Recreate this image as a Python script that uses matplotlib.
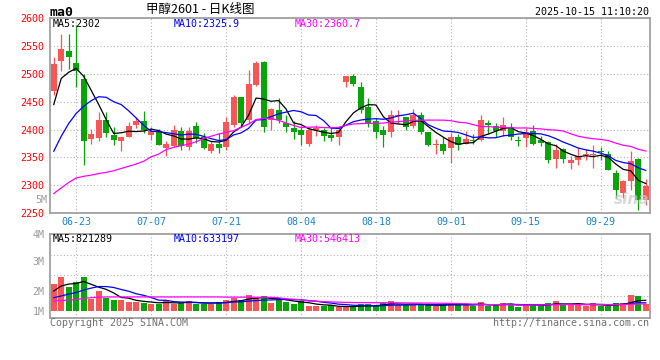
import numpy as np
import pandas as pd
import matplotlib
matplotlib.use("Agg")
import matplotlib.pyplot as plt

plt.rcParams['font.family'] = ['DejaVu Sans Mono', 'Noto Sans CJK SC']

# ---------------- data ----------------
dates = [d.strftime('%m-%d') for d in pd.bdate_range('2025-06-18', '2025-10-15')
         if not ('2025-10-01' <= d.strftime('%Y-%m-%d') <= '2025-10-08')]

opens = [2469, 2523, 2541, 2520, 2490, 2383, 2385, 2418, 2390, 2379,
         2386, 2408, 2416, 2390, 2397, 2366, 2371, 2397, 2369, 2406,
         2387, 2362, 2374, 2368, 2409, 2458, 2417, 2480, 2522, 2417,
         2436, 2411, 2403, 2399, 2374, 2399, 2399, 2390, 2387, 2485,
         2496, 2477, 2441, 2416, 2399, 2395, 2424, 2422, 2406, 2426,
         2395, 2373, 2374, 2366, 2387, 2374, 2381, 2381, 2412, 2407,
         2398, 2405, 2381, 2384, 2398, 2381, 2377, 2347, 2365, 2339,
         2346, 2355, 2355, 2361, 2356, 2322, 2286, 2308, 2347, 2274]
highs = [2530, 2571, 2572, 2588, 2500, 2401, 2431, 2431, 2405, 2386,
         2414, 2423, 2433, 2405, 2401, 2380, 2409, 2404, 2405, 2414,
         2393, 2380, 2393, 2422, 2463, 2458, 2507, 2523, 2523, 2438,
         2457, 2427, 2416, 2406, 2404, 2408, 2402, 2402, 2406, 2497,
         2499, 2486, 2456, 2421, 2407, 2435, 2435, 2423, 2437, 2431,
         2396, 2383, 2386, 2393, 2392, 2398, 2392, 2426, 2417, 2412,
         2423, 2411, 2389, 2402, 2409, 2389, 2379, 2374, 2367, 2352,
         2368, 2365, 2373, 2368, 2361, 2328, 2310, 2361, 2349, 2311]
lows = [2462, 2505, 2509, 2476, 2337, 2374, 2379, 2386, 2373, 2362,
        2386, 2402, 2393, 2381, 2372, 2353, 2369, 2364, 2364, 2376,
        2365, 2358, 2358, 2364, 2405, 2405, 2410, 2478, 2395, 2399,
        2411, 2395, 2383, 2372, 2371, 2389, 2380, 2379, 2373, 2476,
        2478, 2429, 2405, 2384, 2368, 2386, 2410, 2399, 2402, 2392,
        2371, 2356, 2356, 2339, 2364, 2374, 2374, 2379, 2392, 2387,
        2389, 2381, 2371, 2368, 2372, 2370, 2339, 2331, 2340, 2329,
        2337, 2346, 2331, 2345, 2327, 2277, 2277, 2292, 2255, 2265]
closes = [2518, 2545, 2530, 2505, 2380, 2392, 2418, 2394, 2381, 2386,
          2406, 2415, 2399, 2398, 2373, 2374, 2399, 2371, 2397, 2384,
          2367, 2374, 2366, 2413, 2458, 2411, 2481, 2520, 2405, 2437,
          2418, 2405, 2395, 2390, 2400, 2402, 2389, 2384, 2399, 2497,
          2481, 2435, 2412, 2396, 2390, 2426, 2426, 2405, 2426, 2396,
          2373, 2374, 2362, 2386, 2373, 2383, 2379, 2417, 2408, 2398,
          2408, 2387, 2380, 2396, 2374, 2375, 2346, 2364, 2347, 2346,
          2352, 2356, 2356, 2359, 2328, 2291, 2308, 2343, 2274, 2299]
# volume (millions)
volumes = [1.39, 1.77, 1.25, 1.49, 1.77, 0.64, 1.04, 0.68, 0.56, 0.59,
           0.47, 0.47, 0.42, 0.38, 0.38, 0.56, 0.38, 0.42, 0.50, 0.38,
           0.38, 0.38, 0.47, 0.56, 0.68, 0.56, 0.82, 0.69, 0.76, 0.42,
           0.59, 0.45, 0.38, 0.50, 0.24, 0.24, 0.24, 0.30, 0.19, 0.19,
           0.24, 0.35, 0.35, 0.24, 0.42, 0.50, 0.30, 0.30, 0.30, 0.35,
           0.30, 0.24, 0.30, 0.42, 0.35, 0.35, 0.24, 0.45, 0.24, 0.35,
           0.42, 0.35, 0.19, 0.35, 0.35, 0.24, 0.42, 0.50, 0.30, 0.35,
           0.35, 0.24, 0.42, 0.24, 0.24, 0.42, 0.42, 0.83, 0.76, 0.35]

# moving-average values before enough history is shown
ma5_lead = [2445, 2492, 2503, 2510]
ma10_lead = [2361, 2388, 2411, 2429, 2442, 2452, 2459, 2458, 2450]
ma30_lead = [2285, 2295, 2305, 2313, 2316, 2318, 2321, 2323, 2326, 2330,
             2334, 2338, 2343, 2351, 2356, 2364, 2368, 2371, 2374, 2378,
             2384, 2388, 2392, 2395, 2398, 2404, 2410, 2418, 2420]
vma5_lead = [1.04, 1.30, 1.40, 1.43]
vma10_lead = [0.69, 0.78, 0.88, 0.96, 1.09, 1.19, 1.27, 1.27, 1.22]
vma30_lead = [0.52, 0.54, 0.57, 0.59, 0.66, 0.69, 0.72, 0.73, 0.73, 0.73,
              0.73, 0.73, 0.73, 0.73, 0.73, 0.73, 0.73, 0.73, 0.73, 0.73,
              0.73, 0.73, 0.73, 0.72, 0.72, 0.72, 0.72, 0.71, 0.71]

tick_dates = ['06-23', '07-07', '07-21', '08-04', '08-18', '09-01', '09-15', '09-29']
price_ticks = [2250, 2300, 2350, 2400, 2450, 2500, 2550, 2600]
vol_tick_labels = ['4M', '3M', '2M', '1M']

title = '甲醇2601 - 日K线图'
timestamp = '2025-10-15 11:10:20'
ma_texts = ['MA5:2302', 'MA10:2325.9', 'MA30:2360.7']
vma_texts = ['MA5:821289', 'MA10:633197', 'MA30:546413']

# ---------------- helpers ----------------
def moving(values, n, lead):
    s = pd.Series(values, dtype=float).rolling(n).mean().to_numpy()
    s[:n - 1] = lead
    return s

RED = '#f85656'
GREEN = '#08a408'
GRID = '#b4b4b4'
SPINE = '#a0a0a0'

x = np.arange(len(closes))
o = np.array(opens, float); h = np.array(highs, float)
l = np.array(lows, float); c = np.array(closes, float)
up = c >= o
cols = np.where(up, RED, GREEN)

W, H = 660, 360
fig = plt.figure(figsize=(6.6, 3.6), dpi=100)
fig.patch.set_facecolor('white')
ax = fig.add_axes([50 / W, 147 / H, 599.5 / W, 194.7 / H])
axv = fig.add_axes([50 / W, 42 / H, 599.5 / W, 84 / H])

tick_pos = [dates.index(d) for d in tick_dates]

# ---- main panel ----
ax.set_xlim(-0.5, len(x) - 0.5)
ax.set_ylim(price_ticks[0], price_ticks[-1])
ax.set_yticks(price_ticks)
ax.set_yticklabels([str(v) for v in price_ticks])
ax.set_xticks(tick_pos)
ax.set_xticklabels(tick_dates)
ax.tick_params(axis='y', length=0, pad=4, labelsize=7.2, labelcolor='#ff0000')
ax.tick_params(axis='x', length=0, pad=3, labelsize=7.2, labelcolor='#1a82d2')
ax.grid(True, linestyle=(0, (1, 2)), color=GRID, linewidth=0.8)
ax.set_axisbelow(True)
for s in ax.spines.values():
    s.set_color(SPINE); s.set_linewidth(1.3)

ax.vlines(x, l, h, colors=cols, linewidth=0.9, zorder=2)
body_bottom = np.minimum(o, c)
body_h = np.maximum(np.abs(c - o), 1.3)
ax.bar(x, body_h, bottom=body_bottom, width=0.8, color=cols, linewidth=0, zorder=3)

ax.plot(x, moving(closes, 5, ma5_lead), color='black', lw=0.9, zorder=4)
ax.plot(x, moving(closes, 10, ma10_lead), color='#0000ff', lw=0.9, zorder=4)
ax.plot(x, moving(closes, 30, ma30_lead), color='#ff00ff', lw=0.9, zorder=4)

# ---- volume panel ----
axv.set_xlim(-0.5, len(x) - 0.5)
axv.set_ylim(-0.364, 4.0)
axv.bar(x, volumes, width=0.8, color=cols, linewidth=0, zorder=3)
axv.plot(x, moving(volumes, 5, vma5_lead), color='black', lw=0.9, zorder=4)
axv.plot(x, moving(volumes, 10, vma10_lead), color='#0000ff', lw=0.9, zorder=4)
axv.plot(x, moving(volumes, 30, vma30_lead), color='#ff00ff', lw=0.9, zorder=4)
axv.set_xticks(tick_pos)
axv.set_xticklabels([])
axv.set_yticks([4.0, 2.6, 1.04, 0.0])
axv.set_yticklabels(vol_tick_labels)
axv.tick_params(axis='both', length=0, pad=4, labelsize=7.2, labelcolor='#9a9a9a')
axv.grid(True, axis='x', linestyle=(0, (1, 2)), color=GRID, linewidth=0.8)
for gy in (2.91, 1.87, 0.78):
    axv.axhline(gy, linestyle=(0, (1, 2)), color=GRID, linewidth=0.8, zorder=1)
axv.set_axisbelow(True)
for s in axv.spines.values():
    s.set_color(SPINE); s.set_linewidth(1.3)

# ---- texts ----
def ftxt(px, py, s, **kw):
    fig.text(px / W, 1 - py / H, s, **kw)

ftxt(50, 12, 'ma0', fontsize=9.5, fontweight='bold', va='center', ha='left')
ftxt(200, 10, title, fontsize=9, va='center', ha='center',
     family=['Noto Sans CJK SC', 'DejaVu Sans'])
ftxt(649, 12, timestamp, fontsize=7.2, va='center', ha='right')
for px, s, col in zip((53, 174, 295), ma_texts, ('black', '#0000ff', '#ff00ff')):
    ftxt(px, 24, s, fontsize=7.2, va='center', ha='left', color=col)
for px, s, col in zip((53, 174, 295), vma_texts, ('black', '#0000ff', '#ff00ff')):
    ftxt(px, 238.5, s, fontsize=7.2, va='center', ha='left', color=col)
ftxt(47, 200, '5M', fontsize=7.2, va='center', ha='right', color='#9a9a9a')
ftxt(50, 323.5, 'Copyright 2025 SINA.COM', fontsize=7.2, va='center', ha='left', color='#707070')
ftxt(649, 323.5, 'http://finance.sina.com.cn', fontsize=7.2, va='center', ha='right', color='#707070')
ftxt(632, 200, 'sina', fontsize=11, fontweight='bold', style='italic', va='center',
     ha='center', color='#c8c8c8', alpha=0.7, family='DejaVu Sans', zorder=10)

fig.savefig('out.png', dpi=100, facecolor='white')
